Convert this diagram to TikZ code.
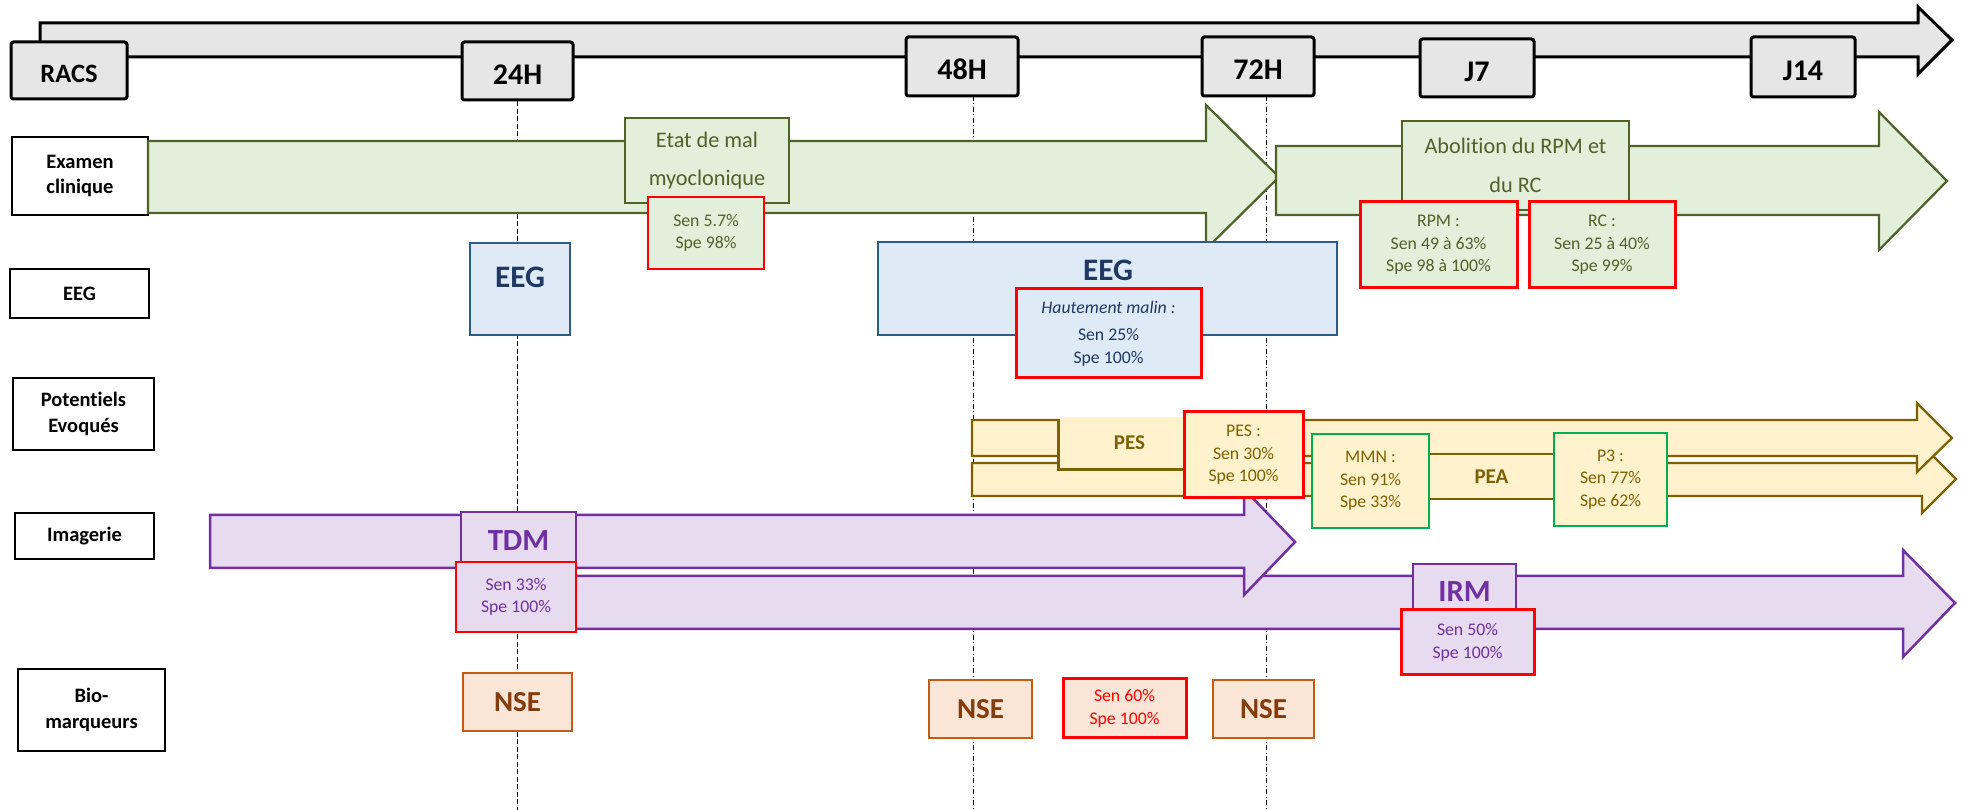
\documentclass[tikz,border=0pt]{standalone}
\usepackage{fontspec}
\setmainfont[Ligatures=NoCommon]{Carlito}
\usepackage{tikz}
\usetikzlibrary{positioning}
\definecolor{tlgray}{HTML}{E7E6E6}
\definecolor{clingreen}{HTML}{E2EFDA}
\definecolor{clinline}{HTML}{4F6228}
\definecolor{eegblue}{HTML}{DEEBF7}
\definecolor{eegline}{HTML}{2E5C8A}
\definecolor{eegtext}{HTML}{1F3864}
\definecolor{peyellow}{HTML}{FFF2CC}
\definecolor{peline}{HTML}{7F6000}
\definecolor{impurple}{HTML}{E7DBEF}
\definecolor{imline}{HTML}{7030A0}
\definecolor{bioorange}{HTML}{FBE5D6}
\definecolor{bioline}{HTML}{C55A11}
\definecolor{biotext}{HTML}{843C0C}
\definecolor{okgreen}{HTML}{00B050}
\tikzset {
        boxsize/.style 2 args={minimum width=#1*0.4pt, minimum height=#2*0.4pt},
        timebox/.style={draw, line width=1.2pt, fill=tlgray, rounded corners=1pt, inner sep=0pt, text height=10.8pt, text depth=0pt, font=\bfseries\fontsize{12}{14}\selectfont},
        rowbox/.style={draw, fill=white, line width=0.6pt, inner sep=0pt, align=center, font=\bfseries\fontsize{8.2}{10.2}\selectfont},
        statbox/.style={inner sep=0pt, align=center, font=\fontsize{7.1}{9}\selectfont},
        thinred/.style={statbox, draw=red, line width=0.5pt},
        thickred/.style={statbox, draw=red, line width=1.2pt},
        greenbox/.style={statbox, draw=okgreen, line width=1.1pt},
        tick/.style={line width=0.4pt, dash pattern=on 2pt off 1pt},
        tickdot/.style={line width=0.4pt, dash pattern=on 2pt off 1pt on 0.4pt off 1pt},
        clinarrow/.style={draw=clinline, fill=clingreen, line width=0.9pt},
        clinbox/.style={draw=clinline, fill=clingreen, line width=0.9pt, inner sep=0pt, align=center, text=clinline, font=\fontsize{8.9}{15.5}\selectfont},
        eegbox/.style={draw=eegline, fill=eegblue, line width=1.1pt, inner sep=0pt},
        eegtitle/.style={inner sep=0pt, text=eegtext, font=\bfseries\fontsize{12.5}{14}\selectfont},
        pearrow/.style={draw=peline, fill=peyellow, line width=0.9pt},
        imarrow/.style={draw=imline, fill=impurple, line width=1pt},
        imbox/.style={draw=imline, fill=impurple, line width=0.8pt, inner sep=0pt, text=imline, font=\bfseries\fontsize{12.3}{14}\selectfont},
        biobox/.style={draw=bioline, fill=bioorange, line width=0.8pt, inner sep=0pt, text=biotext, font=\bfseries\fontsize{11.6}{14}\selectfont}
}
\begin{document}
\begin{tikzpicture}[x=0.4pt, y=-0.4pt]
\useasboundingbox (0,0) rectangle (1962,810);
% time line
\draw[line width=1.2pt, fill=tlgray] (40,57) -- (40,23) -- (1918,23) -- (1918,7) -- (1952,40) -- (1918,74) -- (1918,57) -- cycle;
\node[timebox, boxsize={116}{57}, text height=9.9pt, font=\bfseries\fontsize{10.6}{12}\selectfont] (racs) at (69,70.5) {RACS};
\node[timebox, boxsize={111}{58}] (h24) at (517.5,71) {24H};
\node[timebox, boxsize={112}{59}] (h48) at (962,66.5) {48H};
\node[timebox, boxsize={112}{59}] (h72) at (1258,66.5) {72H};
\node[timebox, boxsize={114}{58}] (j7) at (1477,68) {J7};
\node[timebox, boxsize={104}{60}] (j14) at (1803,67) {J14};
\coordinate (bot) at (0,810);
\coordinate (t48) at (973,96);
\coordinate (t72) at (1266,96);
\draw[tick] (h24.south) -- (h24.south |- bot);
\draw[tickdot] (t48) -- (t48 |- bot);
\draw[tickdot] (t72) -- (t72 |- bot);
% row labels
\node[rowbox, boxsize={136}{78}] (exam) at (80,176) {Examen\\clinique};
\node[rowbox, boxsize={139}{49}] (eegrow) at (79.5,293.5) {EEG};
\node[rowbox, boxsize={141}{72}] (pot) at (83.5,414) {Potentiels\\Evoqués};
\node[rowbox, boxsize={139}{46}] (img) at (84.5,536) {Imagerie};
\node[rowbox, boxsize={147}{82}] (bio) at (91.5,710) {Bio-\\marqueurs};
% examen clinique
\draw[clinarrow] (148,141) -- (1206,141) -- (1206,105) -- (1279,177) -- (1206,249) -- (1206,213) -- (148,213) -- cycle;
\node[clinbox, boxsize={164}{85}] (etat) at (707,160.5) {Etat de mal\\myoclonique};
\node[thinred, fill=clingreen, text=clinline, boxsize={116}{72}] (etatstat) at (706,233) {Sen 5.7\%\\Spe 98\%};
\draw[clinarrow] (1276,146) -- (1879,146) -- (1879,112) -- (1947,181) -- (1879,250) -- (1879,215) -- (1276,215) -- cycle;
\node[clinbox, boxsize={227}{89}] (abol) at (1515.5,165.5) {Abolition du RPM et\\du RC};
\node[thickred, fill=clingreen, text=clinline, boxsize={157}{86}] (rpm) at (1438.5,245) {RPM :\\Sen 49 à 63\%\\Spe 98 à 100\%};
\node[thickred, fill=clingreen, text=clinline, boxsize={146}{86}] (rc) at (1602,245) {RC :\\Sen 25 à 40\%\\Spe 99\%};
% EEG
\node[eegbox, boxsize={100}{92}] (eegA) at (520,289) {};
\node[eegtitle] (eegAtxt) at (520,277) {EEG};
\node[eegbox, boxsize={459}{93}] (eegB) at (1107.5,288.5) {};
\node[eegtitle] (eegBtxt) at (1108,270) {EEG};
\node[thickred, fill=eegblue, text=eegtext, boxsize={185}{89}] (malin) at (1108.5,333.5) {\textit{Hautement malin :}\\[2pt]Sen 25\%\\Spe 100\%};
% imagerie
\draw[imarrow] (500,576) -- (1903,576) -- (1903,550) -- (1955,603) -- (1903,657) -- (1903,629) -- (500,629) -- cycle;
\draw[imarrow] (210,515) -- (1244,515) -- (1244,489) -- (1295,542) -- (1244,595) -- (1244,568) -- (210,568) -- cycle;
\node[imbox, boxsize={115}{58}] (tdm) at (518.5,541) {TDM};
\node[thinred, fill=impurple, text=imline, boxsize={120}{70}] (tdmstat) at (516,597) {Sen 33\%\\Spe 100\%};
\node[imbox, boxsize={103}{56}] (irm) at (1464.5,592) {IRM};
\node[thickred, fill=impurple, text=imline, boxsize={133}{65}] (irmstat) at (1467.5,642.5) {Sen 50\%\\Spe 100\%};
% potentiels evoques
\draw[pearrow] (972,463) -- (1922,463) -- (1922,445) -- (1956,479) -- (1922,513) -- (1922,496) -- (972,496) -- cycle;
\draw[pearrow] (972,420) -- (1917,420) -- (1917,403) -- (1952,438) -- (1917,472) -- (1917,456) -- (972,456) -- cycle;
\node[fill=peyellow, inner sep=0pt, boxsize={141}{52}, text=peline, font=\bfseries\fontsize{8.4}{10}\selectfont] (pes) at (1129.5,443) {PES};
\draw[peline, line width=0.9pt] ([yshift=-1.2pt]pes.north west) -- (pes.south west) -- (pes.south east);
\node[thickred, fill=peyellow, text=peline, boxsize={119}{86}] (pesstat) at (1243.5,455) {PES :\\Sen 30\%\\Spe 100\%};
\node[draw=peline, fill=peyellow, line width=0.9pt, inner sep=0pt, boxsize={143}{45}, text=peline, font=\bfseries\fontsize{8.4}{10}\selectfont] (pea) at (1491.5,476.5) {PEA};
\node[greenbox, fill=peyellow, text=peline, boxsize={117}{94}] (mmn) at (1370.5,481) {MMN :\\Sen 91\%\\Spe 33\%};
\node[greenbox, fill=peyellow, text=peline, boxsize={113}{93}] (p3) at (1610.5,479.5) {P3 :\\Sen 77\%\\Spe 62\%};
% biomarqueurs
\node[biobox, boxsize={109}{58}] (nseA) at (517.5,702) {NSE};
\node[biobox, boxsize={103}{58}] (nseB) at (980.5,709) {NSE};
\node[thickred, fill=bioorange, text=red, boxsize={123}{59}] (nsestat) at (1124.5,708.5) {Sen 60\%\\Spe 100\%};
\node[biobox, boxsize={101}{58}] (nseC) at (1263.5,709) {NSE};
\end{tikzpicture}
\end{document}
